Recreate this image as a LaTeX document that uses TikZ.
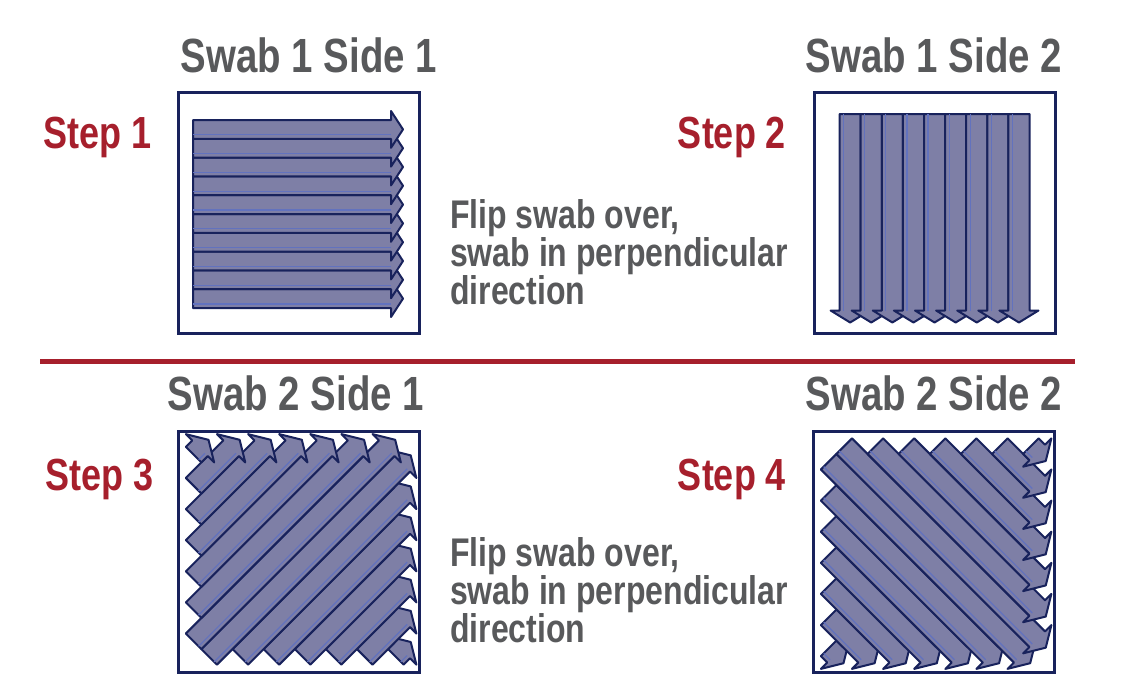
\documentclass[tikz,border=0pt]{standalone}
\usepackage{fontspec}
\setmainfont[FakeStretch=0.8]{Liberation Sans}
\usetikzlibrary{positioning}
\definecolor{TG}{RGB}{88,89,91}
\definecolor{SR}{RGB}{166,31,44}
\definecolor{SF}{RGB}{126,127,166}
\definecolor{SN}{RGB}{24,34,92}
\definecolor{SL}{RGB}{98,114,190}

% one swab stroke: tail u, tip u, centre v, width
\newcommand{\swabstrip}[4]{%
  \pgfmathsetmacro{\stripa}{#3-#4/2}%
  \pgfmathsetmacro{\stripb}{#3+#4/2}%
  \pgfmathsetmacro{\headb}{#2-12}%
  \draw[strip] (#1,\stripa) -- (\headb,\stripa) -- (\headb,\stripa-9) -- (#2,#3)
    -- (\headb,\stripb+9) -- (\headb,\stripb) -- (#1,\stripb) -- cycle;
  \draw[stripln] (#1,\stripb-4) -- (\headb,\stripb-4);
}

\begin{document}
\begin{tikzpicture}[x=1pt, y=-1pt,
  ttl/.style={font=\fontsize{48}{48}\selectfont\bfseries, text=TG, anchor=base, inner sep=0pt},
  stp/.style={font=\fontsize{45}{45}\selectfont\bfseries, text=SR, anchor=base, inner sep=0pt},
  note/.style={font=\fontsize{40}{38}\selectfont\bfseries, text=TG, align=left,
               anchor=north west, inner sep=0pt},
  swabbox/.style={draw=SN, line width=3pt, minimum width=241pt, minimum height=241pt, inner sep=0pt},
  strip/.style={fill=SF, draw=SN, line width=2pt, line join=round},
  stripln/.style={draw=SL, line width=1.2pt}
]
\useasboundingbox (0,0) rectangle (1140,694);

% titles and steps
\node[ttl] (t1) at (309,72)  {Swab 1 Side 1};
\node[ttl] (t2) at (934,72)  {Swab 1 Side 2};
\node[ttl] (t3) at (296,410) {Swab 2 Side 1};
\node[ttl] (t4) at (934,410) {Swab 2 Side 2};
\node[stp] (st1) at (98,148)  {Step 1};
\node[stp] (st2) at (732,148) {Step 2};
\node[stp] (st3) at (100,490) {Step 3};
\node[stp] (st4) at (732,490) {Step 4};

\node[note] (f1) at (450,199) {Flip swab over,\\swab in perpendicular\\direction};
\node[note] (f2) at (450,537) {Flip swab over,\\swab in perpendicular\\direction};

% divider
\draw[SR, line width=5pt] (40,361) -- (1075,361);

% boxes
\node[swabbox] (b1) at (299,212.5) {};
\node[swabbox] (b2) at (934.5,212.5) {};
\node[swabbox] (b3) at (299,551.5) {};
\node[swabbox] (b4) at (934,551.5) {};

% side 1: left to right
\begin{scope}[shift={(b1.center)}]
  \foreach \k in {9,...,0}{
    \pgfmathsetmacro{\vv}{-92.5+18.8*(\k+0.5)}
    \swabstrip{-106}{104}{\vv}{18.8}
  }
\end{scope}

% side 2: top to bottom
\begin{scope}[shift={(b2.center)}, rotate=-90]
  \foreach \k in {8,...,0}{
    \pgfmathsetmacro{\vv}{-95+21.1*(\k+0.5)}
    \swabstrip{-98.5}{110}{\vv}{21.1}
  }
\end{scope}

% swab 2: diagonal strokes
\begin{scope}[shift={(b3.center)}, rotate=45]
  \foreach \k in {13,...,0}{
    \pgfmathsetmacro{\vv}{-143+22*\k}
    \pgfmathsetmacro{\tl}{abs(\vv)-149}
    \pgfmathsetmacro{\tp}{158-abs(\vv)}
    \swabstrip{\tl}{\tp}{\vv}{22}
  }
\end{scope}
\begin{scope}[shift={(b4.center)}, rotate=-45]
  \foreach \k in {13,...,0}{
    \pgfmathsetmacro{\vv}{-143+22*\k}
    \pgfmathsetmacro{\tl}{abs(\vv)-149}
    \pgfmathsetmacro{\tp}{158-abs(\vv)}
    \swabstrip{\tl}{\tp}{\vv}{22}
  }
\end{scope}
\end{tikzpicture}
\end{document}
